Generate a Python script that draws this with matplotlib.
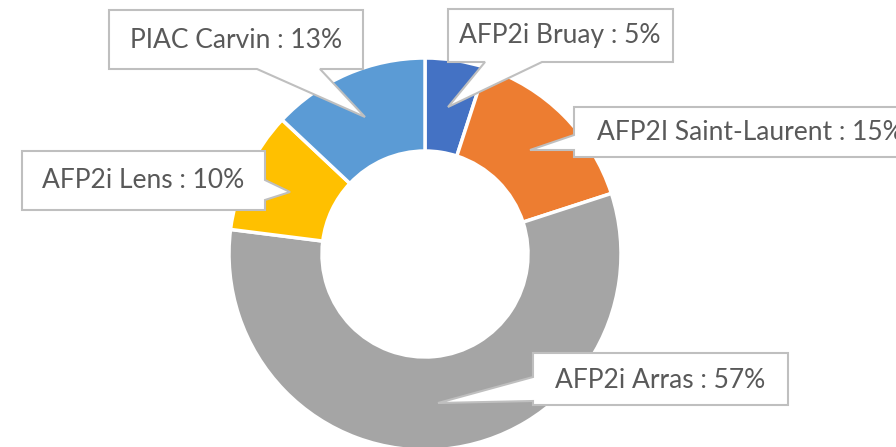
import matplotlib.pyplot as plt
from matplotlib.patches import Polygon

# data
labels = ['AFP2i Bruay', 'AFP2I Saint-Laurent', 'AFP2i Arras', 'AFP2i Lens', 'PIAC Carvin']
values = [5, 15, 57, 10, 13]
colors = ['#4472C4', '#ED7D31', '#A5A5A5', '#FFC000', '#5B9BD5']

W, H = 896, 447


def px(x, y):
    # image pixel coords -> data coords (y up)
    return (x, H - y)


fig = plt.figure(figsize=(W / 100, H / 100), dpi=100)
ax = fig.add_axes([0, 0, 1, 1])

ax.pie(values, colors=colors, startangle=90, counterclock=False,
       radius=196, center=px(425, 254),
       wedgeprops=dict(width=93, edgecolor='white', linewidth=2.5))
ax.set_xlim(0, W)
ax.set_ylim(0, H)
ax.set_aspect('equal')
ax.axis('off')

# callout shapes (box + pointer), in image pixels
callouts = [
    [(448, 9), (673, 9), (673, 62), (542, 62), (448, 107), (485, 62), (448, 62)],
    [(574, 107), (910, 107), (910, 157), (574, 157), (574, 150), (530, 150), (574, 135)],
    [(533, 353), (788, 353), (788, 405), (533, 405), (533, 401), (438, 403), (533, 377)],
    [(22, 151), (265, 151), (265, 180), (290, 192), (265, 200), (265, 210), (22, 210)],
    [(109, 10), (363, 10), (363, 69), (320, 69), (365, 117), (257, 69), (109, 69)],
]
text_pos = [(560, 36, 'center'), (597, 133, 'left'), (660, 380, 'center'),
            (143, 181, 'center'), (236, 40, 'center')]

for lab, val, shape, (tx, ty, ha) in zip(labels, values, callouts, text_pos):
    poly = Polygon([px(x, y) for x, y in shape], closed=True,
                   facecolor='white', edgecolor='#BFBFBF', linewidth=1.5, zorder=5)
    ax.add_patch(poly)
    ax.text(*px(tx, ty), f'{lab} : {val}%', ha=ha, va='center',
            fontsize=19, color='#595959', family='Lato', zorder=6)

fig.savefig('out.png', dpi=100)
